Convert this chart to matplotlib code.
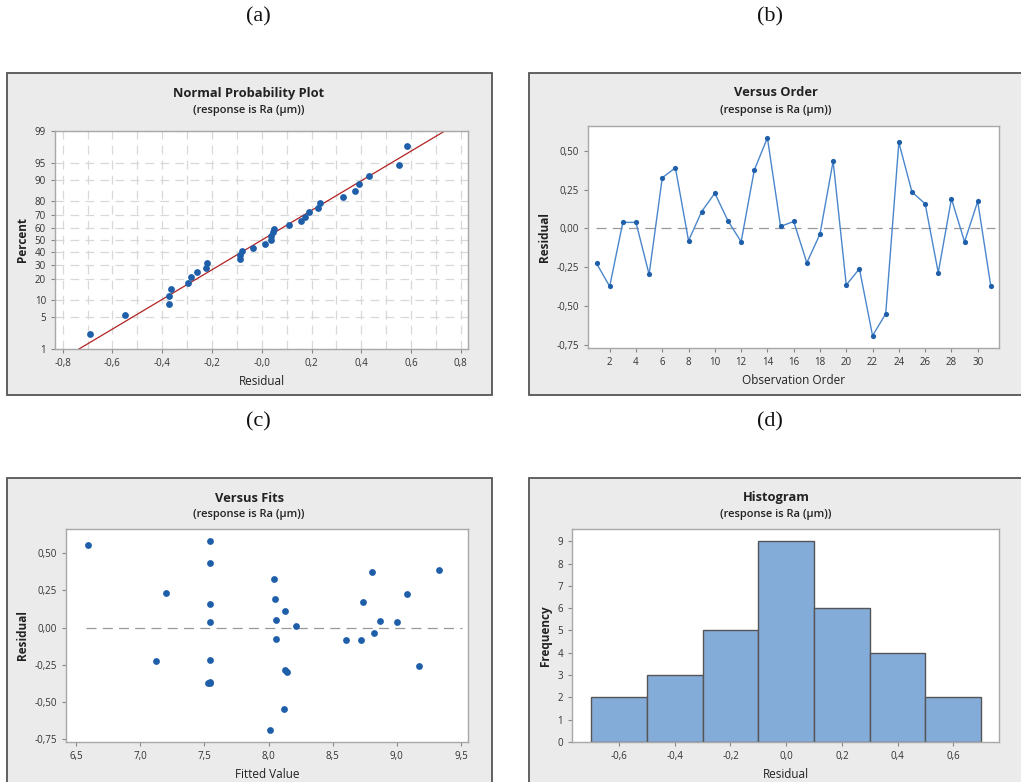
import numpy as np
import matplotlib
matplotlib.use("Agg")
import matplotlib.pyplot as plt
from matplotlib.patches import Rectangle
from matplotlib.ticker import FuncFormatter
from statistics import NormalDist

# ---------------- data ----------------
order = list(range(1, 32))
residuals = [-0.225, -0.373, 0.039, 0.039, -0.296, 0.326, 0.390, -0.079, 0.109, 0.227,
             0.049, -0.086, 0.375, 0.583, 0.013, 0.045, -0.221, -0.036, 0.433, -0.364,
             -0.259, -0.690, -0.549, 0.553, 0.234, 0.159, -0.285, 0.191, -0.086, 0.174,
             -0.373]
fitted = [7.12, 7.53, 7.54, 9.00, 8.14, 8.04, 9.33, 8.055, 8.13, 9.08,
          8.06, 8.60, 8.81, 7.54, 8.21, 8.87, 7.54, 8.82, 7.54, 7.545,
          9.17, 8.01, 8.12, 6.59, 7.20, 7.54, 8.13, 8.05, 8.72, 8.74,
          7.54]
hist_edges = [-0.7, -0.5, -0.3, -0.1, 0.1, 0.3, 0.5, 0.7]
pct_ticks = [1, 5, 10, 20, 30, 40, 50, 60, 70, 80, 90, 95, 99]

W, H = 1021, 782
fig = plt.figure(figsize=(W / 100, H / 100), dpi=100)
plt.rcParams['font.family'] = ['Open Sans', 'DejaVu Sans']

PANEL_BG = '#ebebeb'
BLUE = '#1f5faa'
LINEBLUE = '#4a86cc'
TXT = '#222222'
SPINE = '#a8a8a8'


def rect(x0, y0, x1, y1):
    return [x0 / W, 1 - y1 / H, (x1 - x0) / W, (y1 - y0) / H]


def panel(x0, y0, x1, y1):
    fig.add_artist(Rectangle((x0 / W, 1 - y1 / H), (x1 - x0) / W, (y1 - y0) / H,
                             transform=fig.transFigure, facecolor=PANEL_BG,
                             edgecolor='#555555', lw=1.3, zorder=-10))


def titles(cx, y, title, sub='(response is Ra (µm))'):
    fig.text(cx / W, 1 - y / H, title, ha='center', va='center', fontsize=9.3,
             fontweight='bold', color=TXT)
    fig.text(cx / W, 1 - (y + 17) / H, sub, ha='center', va='center', fontsize=8,
             fontweight='semibold', color=TXT)


def style(ax):
    for s in ax.spines.values():
        s.set_color(SPINE)
        s.set_linewidth(1.0)
    ax.tick_params(labelsize=7, colors='#333333', length=3, width=0.8)
    ax.tick_params(axis='both', color='#888888')


def comma(fmt):
    return FuncFormatter(lambda v, p: (fmt % v).replace('.', ','))


# panel labels
for x, y, s in [(258, 17, '(a)'), (770, 17, '(b)'), (258, 422, '(c)'), (770, 422, '(d)')]:
    fig.text(x / W, 1 - y / H, s, ha='center', va='center', fontsize=16,
             family='Liberation Serif', color='#111111')

# ---------------- (a) Normal probability plot ----------------
panel(7, 73, 492, 395)
titles(249, 93, 'Normal Probability Plot')
ax = fig.add_axes(rect(55, 131, 468, 349))
style(ax)
nd = NormalDist()
res = np.array(residuals)
srt = np.sort(res)
n = len(srt)
pp = (np.arange(1, n + 1) - 0.3) / (n + 0.4)
z = np.array([nd.inv_cdf(p) for p in pp])
mu, sd = res.mean(), res.std(ddof=1)
zlo, zhi = nd.inv_cdf(0.01), nd.inv_cdf(0.99)
xs = np.array([mu + sd * zlo, mu + sd * zhi])
xt = np.round(np.arange(-0.8, 0.81, 0.1), 2)
for v in xt:
    ax.axvline(v, color='#d8d8d8', lw=0.9, ls=(0, (7, 5)), zorder=0)
zt = [nd.inv_cdf(p / 100) for p in pct_ticks]
for v in zt:
    ax.axhline(v, color='#d8d8d8', lw=0.9, ls=(0, (7, 5)), zorder=0)
ax.plot(xs, [zlo, zhi], color='#b22222', lw=0.9, zorder=2)
ax.scatter(srt, z, s=24, color=BLUE, zorder=3, linewidths=0)
ax.set_xlim(-0.831, 0.829)
ax.set_ylim(zlo, zhi)
ax.set_xticks(np.round(np.arange(-0.8, 0.81, 0.2), 2))
ax.xaxis.set_major_formatter(comma('%.1f'))
ax.set_yticks(zt)
ax.set_yticklabels([str(p) for p in pct_ticks])
ax.set_xlabel('Residual', fontsize=8.5, color=TXT, labelpad=4)
ax.set_ylabel('Percent', fontsize=8.5, color=TXT, fontweight='bold', labelpad=4)

# ---------------- (b) Versus order ----------------
panel(529, 73, 1025, 395)
titles(776, 93, 'Versus Order')
ax = fig.add_axes(rect(588, 126, 999, 348))
style(ax)
ax.axhline(0, xmin=0.02, xmax=0.99, color='#999999', lw=0.9, ls=(0, (8, 5)), zorder=1)
ax.plot(order, residuals, color=LINEBLUE, lw=1.0, zorder=2)
ax.scatter(order, residuals, s=14, color=BLUE, zorder=3, linewidths=0)
ax.set_xlim(0.35, 31.62)
ax.set_ylim(-0.769, 0.659)
ax.set_xticks(range(2, 31, 2))
ax.set_yticks([-0.75, -0.5, -0.25, 0, 0.25, 0.5])
ax.yaxis.set_major_formatter(comma('%.2f'))
ax.set_xlabel('Observation Order', fontsize=8.5, color=TXT, labelpad=4)
ax.set_ylabel('Residual', fontsize=8.5, color=TXT, fontweight='bold', labelpad=4)

# ---------------- (c) Versus fits ----------------
panel(7, 478, 492, 790)
titles(249, 498, 'Versus Fits')
ax = fig.add_axes(rect(66, 529, 468, 742))
style(ax)
ax.axhline(0, xmin=0.05, xmax=0.985, color='#999999', lw=0.9, ls=(0, (8, 5)), zorder=1)
ax.scatter(fitted, residuals, s=24, color=BLUE, zorder=3, linewidths=0)
ax.set_xlim(6.42, 9.555)
ax.set_ylim(-0.77, 0.664)
ax.set_xticks([6.5, 7.0, 7.5, 8.0, 8.5, 9.0, 9.5])
ax.xaxis.set_major_formatter(comma('%.1f'))
ax.set_yticks([-0.75, -0.5, -0.25, 0, 0.25, 0.5])
ax.yaxis.set_major_formatter(comma('%.2f'))
ax.set_xlabel('Fitted Value', fontsize=8.5, color=TXT, labelpad=4)
ax.set_ylabel('Residual', fontsize=8.5, color=TXT, fontweight='bold', labelpad=4)

# ---------------- (d) Histogram ----------------
panel(529, 478, 1025, 790)
titles(776, 498, 'Histogram')
ax = fig.add_axes(rect(572, 529, 999, 742))
style(ax)
ax.hist(residuals, bins=hist_edges, color='#84acd9', edgecolor='#555555', lw=1.0, zorder=2)
ax.set_xlim(-0.769, 0.764)
ax.set_ylim(0, 9.55)
ax.set_xticks([-0.6, -0.4, -0.2, 0.0, 0.2, 0.4, 0.6])
ax.xaxis.set_major_formatter(comma('%.1f'))
ax.set_yticks(range(0, 10))
ax.set_xlabel('Residual', fontsize=8.5, color=TXT, labelpad=4)
ax.set_ylabel('Frequency', fontsize=8.5, color=TXT, fontweight='bold', labelpad=4)

fig.savefig('out.png', dpi=100)
